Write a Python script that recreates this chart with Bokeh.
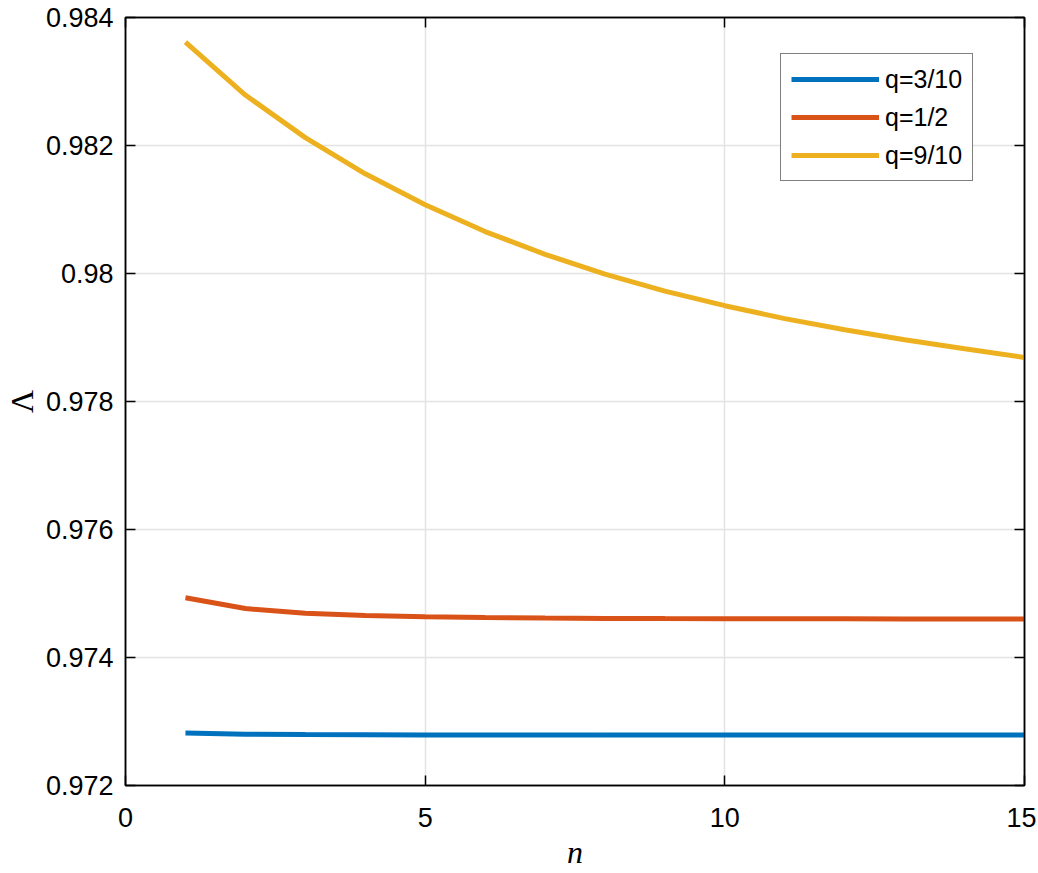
from bokeh.plotting import figure
from bokeh.models import FixedTicker, LinearAxis, CustomJSTickFormatter, Legend, LegendItem
from bokeh.embed import file_html
from bokeh.resources import INLINE

# ---- data ----
n_values = list(range(1, 16))
lam_q03 = [0.972820, 0.972800, 0.972795, 0.972792, 0.972790, 0.972789, 0.972789, 0.972788,
           0.972788, 0.972788, 0.972788, 0.972788, 0.972788, 0.972788, 0.972788]
lam_q05 = [0.974934, 0.974765, 0.974690, 0.974657, 0.974636, 0.974624, 0.974616, 0.974611,
           0.974608, 0.974606, 0.974605, 0.974604, 0.974603, 0.974603, 0.974602]
lam_q09 = [0.983615, 0.982789, 0.982123, 0.981558, 0.981075, 0.980655, 0.980300, 0.979990,
           0.979725, 0.979497, 0.979295, 0.979120, 0.978965, 0.978825, 0.978688]
series_labels = ["q=3/10", "q=1/2", "q=9/10"]
series_colors = ["#0072BD", "#D95319", "#EDB120"]
x_ticks = [0, 5, 10, 15]
y_ticks = [0.972, 0.974, 0.976, 0.978, 0.980, 0.982, 0.984]
x_label = "n"
y_label = "Λ"

p = figure(width=1036, height=872, x_range=(0, 15), y_range=(0.972, 0.984),
           output_backend="svg", toolbar_location=None,
           min_border_left=118, min_border_right=12, min_border_top=17, min_border_bottom=80)
p.background_fill_color = "white"
p.border_fill_color = "white"
p.outline_line_color = "black"
p.outline_line_width = 1.5

tick_font = "Liberation Sans"
fmt = CustomJSTickFormatter(code="return Number(tick.toFixed(3)).toString();")
blank = CustomJSTickFormatter(code="return '';")

for ax in (p.xaxis[0], p.yaxis[0]):
    ax.axis_line_color = "black"
    ax.axis_line_width = 1.5
    ax.major_tick_line_color = "black"
    ax.major_tick_line_width = 1.5
    ax.major_tick_in = 10
    ax.major_tick_out = 0
    ax.minor_tick_in = 0
    ax.minor_tick_out = 0
    ax.major_label_text_font = tick_font
    ax.major_label_text_font_size = "27px"
    ax.major_label_text_color = "black"

p.xaxis[0].ticker = FixedTicker(ticks=x_ticks)
p.yaxis[0].ticker = FixedTicker(ticks=y_ticks)
p.yaxis[0].formatter = fmt
p.xaxis[0].major_label_standoff = 22
p.yaxis[0].major_label_standoff = 12

p.xaxis[0].axis_label = x_label
p.xaxis[0].axis_label_text_font = "Liberation Serif"
p.xaxis[0].axis_label_text_font_style = "italic"
p.xaxis[0].axis_label_text_font_size = "32px"
p.xaxis[0].axis_label_standoff = 4
p.xaxis[0].axis_label_text_color = "black"

p.yaxis[0].axis_label = y_label
p.yaxis[0].axis_label_text_font = "Liberation Serif"
p.yaxis[0].axis_label_text_font_style = "normal"
p.yaxis[0].axis_label_text_font_size = "32px"
p.yaxis[0].axis_label_standoff = 3
p.yaxis[0].axis_label_text_color = "black"

# mirror ticks on top and right (inward, unlabeled)
top_ax = LinearAxis(ticker=FixedTicker(ticks=x_ticks), formatter=blank,
                    major_label_standoff=0, major_tick_in=10, major_tick_out=0,
                    minor_tick_in=0, minor_tick_out=0, axis_line_color="black",
                    axis_line_width=1.5, major_tick_line_width=1.5)
right_ax = LinearAxis(ticker=FixedTicker(ticks=y_ticks), formatter=blank,
                      major_label_standoff=0, major_tick_in=10, major_tick_out=0,
                      minor_tick_in=0, minor_tick_out=0, axis_line_color="black",
                      axis_line_width=1.5, major_tick_line_width=1.5)
p.add_layout(top_ax, "above")
p.add_layout(right_ax, "right")

p.xgrid.ticker = FixedTicker(ticks=x_ticks)
p.ygrid.ticker = FixedTicker(ticks=y_ticks)
p.xgrid.grid_line_color = "#e3e3e3"
p.ygrid.grid_line_color = "#e3e3e3"
p.xgrid.grid_line_width = 1.5
p.ygrid.grid_line_width = 1.5

renderers = []
for ys, col in zip([lam_q03, lam_q05, lam_q09], series_colors):
    r = p.line(n_values, ys, line_color=col, line_width=5)
    renderers.append(r)

legend = Legend(items=[LegendItem(label=lab, renderers=[r]) for lab, r in zip(series_labels, renderers)],
                location=(655, 604))
legend.border_line_color = "black"
legend.border_line_width = 1.5
legend.background_fill_color = "white"
legend.background_fill_alpha = 1.0
legend.label_text_font = tick_font
legend.label_text_font_size = "25px"
legend.label_text_color = "black"
legend.glyph_width = 88
legend.glyph_height = 30
legend.label_height = 30
legend.label_standoff = 6
legend.spacing = 8
legend.padding = 10
legend.margin = 0
p.add_layout(legend)

open("out.html", "w").write(file_html(p, INLINE))
